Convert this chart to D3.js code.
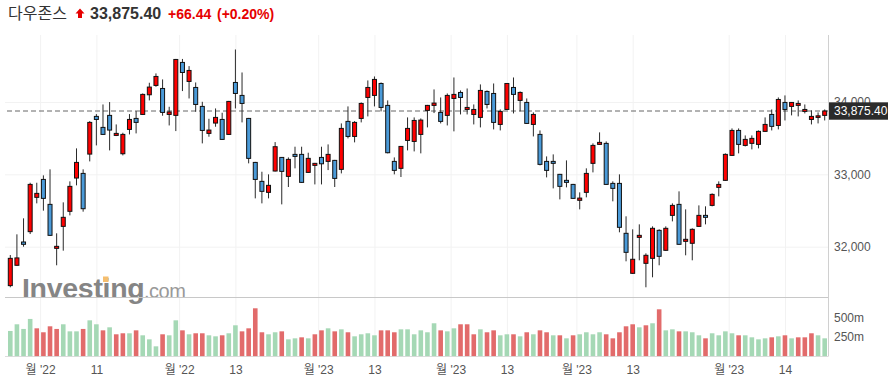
<!DOCTYPE html>
<html><head><meta charset="utf-8">
<script src="https://cdn.jsdelivr.net/npm/d3@7/dist/d3.min.js"></script>
<style>body{margin:0;background:#fff}svg{display:block}</style>
</head><body><svg id="c" width="895" height="384"></svg>
<script>
const title = "다우존스";
const lastPrice = 33875.40;
const changeText = "+66.44";
const changePctText = "(+0.20%)";

const opens  = [31462,31743,32065,32208,32682,32930,32585,31977,32281,32489,32949,33013,33280,33801,33649,33815,33538,33285,33621,33773,33828,34100,34229,34187,33828,33815,34547,34284,34201,33939,33566,33709,33759,33552,34270,34091,33773,33165,32903,32751,33046,33234,32972,33276,33276,33027,33124,33234,33179,33193,33069,33732,33524,33773,34063,34091,34256,33953,33179,33083,33469,33455,33552,33884,33953,33856,33815,34049,34132,33897,33828,33787,34146,34118,33690,33897,34201,34022,33994,33690,33552,33179,33179,33000,32917,32861,32641,32751,33152,33414,33428,32875,32875,32185,31632,32129,31770,31839,32226,31950,32433,32585,32074,32047,32281,32433,32571,32820,32917,33262,33607,33400,33428,33414,33594,33828,33676,33994,33939,33953,33870,33759,33787,33815];
const highs  = [31885,32171,32392,32884,32884,32986,33069,32185,32613,32903,33359,33069,33736,33833,33966,33999,33690,33575,33833,33874,34118,34266,34395,34312,33934,34595,34595,34496,34270,34003,33768,33911,33851,34015,34726,34408,33780,33172,33036,33000,33446,33240,33234,33382,33382,33299,33158,33382,33414,33200,33704,33939,33736,33994,34298,34353,34270,34022,33234,33392,33787,33787,33773,33960,34174,34063,34118,34339,34160,34187,33966,34243,34160,34256,33897,34262,34339,34146,34049,33856,33607,33248,33276,33006,33193,32868,32751,33083,33428,33580,33455,32903,33000,32420,32240,32309,31908,32281,32240,32281,32599,32765,32516,32254,32571,32558,32737,32903,33290,33635,33635,33538,33538,33607,33787,33897,34063,34091,34000,34022,33966,33884,33856,33897];
const lows   = [31439,31738,32000,32175,32599,32498,32150,31743,31945,32433,32848,32484,33179,33400,33545,33331,33529,33262,33552,33566,33820,34022,34210,33810,33676,33598,34151,34049,33865,33428,33520,33658,33476,33545,33911,33718,33152,32668,32599,32668,33040,32585,32825,33083,32882,33020,32861,32861,33059,32825,33013,33497,33442,33718,33801,33939,33870,33290,33000,32963,33331,33317,33290,33649,33847,33704,33676,33594,33828,33828,33690,33649,33911,33621,33607,33890,33842,33870,33697,33524,33124,32958,32806,32654,32820,32661,32516,32682,33027,33408,32855,32627,32199,31798,31625,31812,31439,31577,31743,31943,32350,32026,31881,31812,32275,32309,32558,32696,32910,33255,33290,33386,33345,33359,33588,33607,33621,33745,33815,33801,33842,33690,33704,33745];
const closes = [31839,31845,32033,32861,32737,32668,32157,32005,32406,32834,33165,32525,33718,33759,33552,33612,33566,33552,33759,33718,34105,34206,34353,33856,33862,34588,34408,34436,33966,33607,33612,33787,33483,34008,34118,33980,33221,32930,32765,32848,33382,33041,33207,33248,32889,33221,33152,33146,33276,32944,33635,33524,33718,33980,34201,34312,33925,33299,33055,33386,33635,33745,33750,33953,33985,33732,34091,34105,34063,33925,33897,34160,33966,33718,33870,34256,34105,34132,33704,33828,33138,33055,33152,32834,32889,32668,32672,33013,33400,33442,32861,32806,32268,31922,31826,32157,31881,32254,31867,32254,32571,32033,32102,32240,32433,32406,32723,32861,33276,33607,33414,33483,33497,33594,33690,33663,34035,33897,33994,33980,33897,33801,33809,33875.4];
const volumes = [324,410,350,479,358,307,384,350,410,319,319,350,461,410,332,371,281,294,294,332,268,216,126,281,268,461,332,281,294,294,268,255,268,294,397,319,358,616,307,281,307,319,216,229,242,229,281,332,358,319,345,307,255,281,294,268,332,332,307,345,345,281,332,307,423,332,319,358,410,410,281,345,307,332,268,281,281,255,307,281,332,307,268,268,229,268,281,307,281,307,281,229,307,384,410,371,397,423,603,332,345,319,319,307,268,229,294,268,319,294,268,268,242,216,229,242,255,268,229,242,242,294,268,229];

const priceTicks = [32000, 33000, 34000];
const volumeTicks = [250, 500];
const volumeTickLabels = ["250m", "500m"];
const xTickPositions = [4.5, 13, 25.5, 34, 46.5, 55, 66.5, 75, 85.5, 94, 108.5, 117];
const xTickLabels = ["월 '22", "11", "월 '22", "13", "월 '23", "13", "월 '23", "13", "월 '23", "13", "월 '23", "14"];

const FONT = "'Liberation Sans', Arial, 'Noto Sans CJK KR', sans-serif";
const svg = d3.select("#c");
const L = 5, R = 828, TOP = 35, PB = 297.5, VB = 356.5;

const x = d3.scaleLinear().domain([-0.8, 123.5]).range([L, R]);
const y = d3.scaleLinear().domain([32000, 34000]).range([246.7, 102.0]);
const yV = d3.scaleLinear().domain([0, 500]).range([356.1, 317.3]);

const data = closes.map((c, i) => ({i, o: opens[i], h: highs[i], l: lows[i], c, v: volumes[i],
  volUp: i === 0 || c >= closes[i - 1]}));

// grid
const gGrid = svg.append("g");
gGrid.append("g").attr("transform", `translate(0,${VB})`)
  .call(d3.axisBottom(x).tickValues(xTickPositions).tickSize(-(VB - TOP)).tickFormat(""))
  .call(g => g.select(".domain").remove())
  .call(g => g.selectAll("line").attr("stroke", "#f2f2f2"));
gGrid.append("g").attr("transform", `translate(${L},0)`)
  .call(d3.axisLeft(y).tickValues(priceTicks).tickSize(-(R - L)).tickFormat(""))
  .call(g => g.select(".domain").remove())
  .call(g => g.selectAll("line").attr("stroke", "#f2f2f2"));

// watermark
const wm = svg.append("g");
wm.append("text").attr("x", 22).attr("y", 298).attr("font-family", FONT).attr("font-weight", "bold")
  .attr("font-size", 28.5).attr("fill", "#858585").attr("letter-spacing", -0.3).text("Investing");
wm.append("rect").attr("x", 103).attr("y", 276.5).attr("width", 5.5).attr("height", 5.5).attr("fill", "#f5be6e");
wm.append("text").attr("x", 144).attr("y", 298).attr("font-family", FONT)
  .attr("font-size", 20).attr("fill", "#999").attr("letter-spacing", -0.5).text(".com");

// frame lines
svg.append("line").attr("x1", L).attr("x2", R).attr("y1", PB).attr("y2", PB).attr("stroke", "#c8c8c8");
svg.append("line").attr("x1", L).attr("x2", R).attr("y1", VB).attr("y2", VB).attr("stroke", "#dcdcdc");
svg.append("line").attr("x1", R + 0.5).attr("x2", R + 0.5).attr("y1", TOP).attr("y2", VB).attr("stroke", "#d0d0d0");

// volume
svg.append("g").selectAll("rect").data(data).join("rect")
  .attr("x", d => x(d.i) - 2.3).attr("width", 4.6)
  .attr("y", d => yV(d.v)).attr("height", d => yV(0) - yV(d.v))
  .attr("fill", d => d.volUp ? "#a5d8b5" : "#e26b6b");

// last price dashed line
svg.append("line").attr("x1", L + 2).attr("x2", R).attr("y1", y(lastPrice)).attr("y2", y(lastPrice))
  .attr("stroke", "#666").attr("stroke-dasharray", "5,3");

// candles
const gc = svg.append("g");
gc.selectAll("line").data(data).join("line")
  .attr("x1", d => x(d.i)).attr("x2", d => x(d.i))
  .attr("y1", d => y(d.h)).attr("y2", d => y(d.l))
  .attr("stroke", "#2a2a2a").attr("stroke-width", 1);
gc.selectAll("rect").data(data).join("rect")
  .attr("x", d => x(d.i) - 2).attr("width", 4)
  .attr("y", d => y(Math.max(d.o, d.c)))
  .attr("height", d => Math.max(1.5, Math.abs(y(d.o) - y(d.c))))
  .attr("fill", d => d.c >= d.o ? "#ff0000" : "#4a9ad8")
  .attr("stroke", "#111").attr("stroke-width", 1);

// right axes
svg.append("g").attr("transform", `translate(${R},0)`)
  .call(d3.axisRight(y).tickValues(priceTicks).tickSize(0).tickPadding(6).tickFormat(d3.format(",")))
  .call(g => g.select(".domain").remove())
  .call(g => g.selectAll("text").attr("font-family", FONT).attr("font-size", 12).attr("fill", "#555"));
svg.append("g").attr("transform", `translate(${R},0)`)
  .call(d3.axisRight(yV).tickValues(volumeTicks).tickSize(0).tickPadding(6)
    .tickFormat((d, k) => volumeTickLabels[k]))
  .call(g => g.select(".domain").remove())
  .call(g => g.selectAll("text").attr("font-family", FONT).attr("font-size", 12).attr("fill", "#555"));

// bottom axis
svg.append("g").attr("transform", `translate(0,${VB})`)
  .call(d3.axisBottom(x).tickValues(xTickPositions).tickSize(0).tickPadding(9)
    .tickFormat((d, k) => xTickLabels[k]))
  .call(g => g.select(".domain").remove())
  .call(g => g.selectAll("text").attr("font-family", FONT).attr("font-size", 12).attr("fill", "#555"));

// last price label
const ly = y(lastPrice);
svg.append("rect").attr("x", R + 1).attr("y", ly - 8.7).attr("width", 59).attr("height", 17.4).attr("fill", "#2b2b2b");
svg.append("text").attr("x", R + 6).attr("y", ly).attr("dy", "0.35em").attr("font-family", FONT)
  .attr("font-size", 12).attr("fill", "#fff").text(d3.format(",.2f")(lastPrice));

// header
svg.append("text").attr("x", 8).attr("y", 19).attr("font-family", "'Noto Sans CJK KR', sans-serif")
  .attr("font-size", 16).attr("fill", "#333").text(title);
svg.append("path").attr("d", "M75.5,13.5 L80,8.5 L84.5,13.5 L82,13.5 L82,18 L78,18 L78,13.5 Z").attr("fill", "#e60000");
svg.append("text").attr("x", 90).attr("y", 19.3).attr("font-family", FONT).attr("font-weight", "bold")
  .attr("font-size", 16).attr("fill", "#333").text(d3.format(",.2f")(lastPrice));
svg.append("text").attr("x", 168).attr("y", 19.3).attr("font-family", FONT).attr("font-weight", "bold")
  .attr("font-size", 14).attr("fill", "#e60000").text(changeText);
svg.append("text").attr("x", 217).attr("y", 19.3).attr("font-family", FONT).attr("font-weight", "bold")
  .attr("font-size", 14).attr("fill", "#e60000").text(changePctText);
</script></body></html>
